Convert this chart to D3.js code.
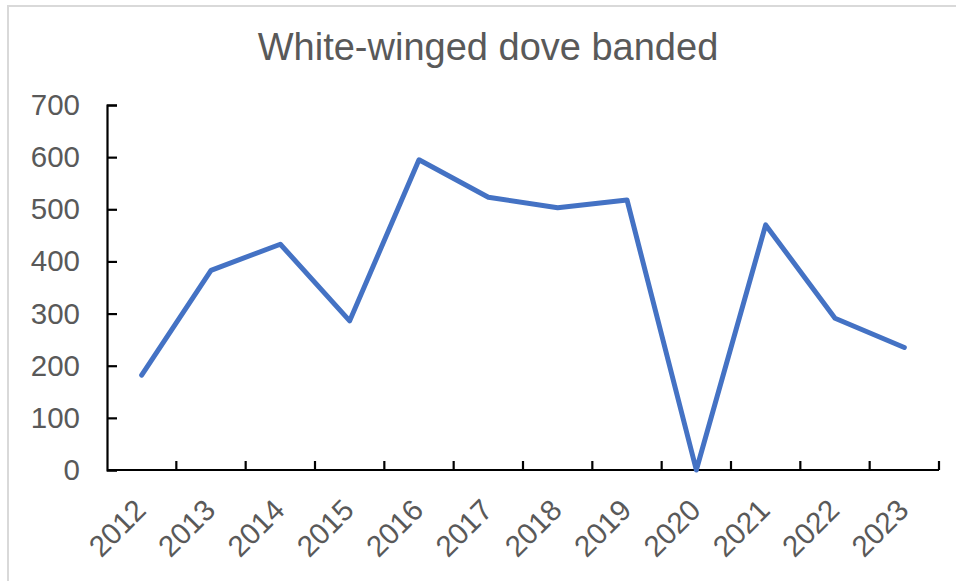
<!DOCTYPE html>
<html>
<head>
<meta charset="utf-8">
<script src="https://cdn.jsdelivr.net/npm/d3@7"></script>
<style>
  html, body { margin: 0; padding: 0; background: #fff; }
  svg { display: block; }
  text { font-family: "Liberation Sans", Arial, sans-serif; fill: #595959; }
</style>
</head>
<body>
<svg id="chart" width="956" height="581"></svg>
<script>
// Annual counts of white-winged doves banded
const years = ["2012", "2013", "2014", "2015", "2016", "2017", "2018", "2019", "2020", "2021", "2022", "2023"];
const banded = [182, 383, 433, 286, 595, 523, 503, 518, 0, 470, 291, 235];
const yTicks = [0, 100, 200, 300, 400, 500, 600, 700];
const chartTitle = "White-winged dove banded";

const svg = d3.select("#chart");
const W = 956, H = 581;
const plot = { left: 107, right: 939, top: 105, bottom: 470 };

// outer chart frame
svg.append("rect")
  .attr("x", 8).attr("y", 6)
  .attr("width", W + 10).attr("height", H + 10)
  .attr("fill", "#fff")
  .attr("stroke", "#d9d9d9")
  .attr("stroke-width", 2);

const x = d3.scaleBand().domain(years).range([plot.left, plot.right]);
const y = d3.scaleLinear().domain([0, 700]).range([plot.bottom, plot.top]);

// title
svg.append("text")
  .attr("x", 488).attr("y", 60)
  .attr("text-anchor", "middle")
  .style("font-size", "38px")
  .text(chartTitle);

// y axis
const yAxis = svg.append("g")
  .attr("transform", `translate(${plot.left},0)`)
  .call(d3.axisLeft(y).tickValues(yTicks).tickSize(-10).tickPadding(27).tickFormat(d3.format("d")));
yAxis.select(".domain").attr("stroke", "#000").attr("stroke-width", 2.2);
yAxis.selectAll(".tick line").attr("stroke", "#000").attr("stroke-width", 2.2);
yAxis.selectAll(".tick text")
  .style("font-size", "29.5px")
  .style("font-family", "'Liberation Sans', Arial, sans-serif")
  .attr("fill", "#595959");

// x axis: ticks sit on the band boundaries
const xAxis = svg.append("g")
  .attr("transform", `translate(0,${plot.bottom})`);
xAxis.append("line")
  .attr("x1", plot.left).attr("x2", plot.right)
  .attr("stroke", "#000").attr("stroke-width", 2.2);
xAxis.selectAll("line.tk")
  .data(years)
  .join("line")
  .attr("class", "tk")
  .attr("x1", d => x(d) + x.bandwidth()).attr("x2", d => x(d) + x.bandwidth())
  .attr("y1", 0).attr("y2", -9)
  .attr("stroke", "#000").attr("stroke-width", 2.2);
xAxis.selectAll("text")
  .data(years)
  .join("text")
  .attr("transform", d => `translate(${x(d) + x.bandwidth() / 2 + 6},${42}) rotate(-45)`)
  .attr("text-anchor", "end")
  .style("font-size", "29.5px")
  .text(d => d);

// data line
const line = d3.line()
  .x((d, i) => x(years[i]) + x.bandwidth() / 2)
  .y(d => y(d));
svg.append("path")
  .datum(banded)
  .attr("d", line)
  .attr("fill", "none")
  .attr("stroke", "#4472C4")
  .attr("stroke-width", 5)
  .attr("stroke-linejoin", "round")
  .attr("stroke-linecap", "round");
</script>
</body>
</html>
